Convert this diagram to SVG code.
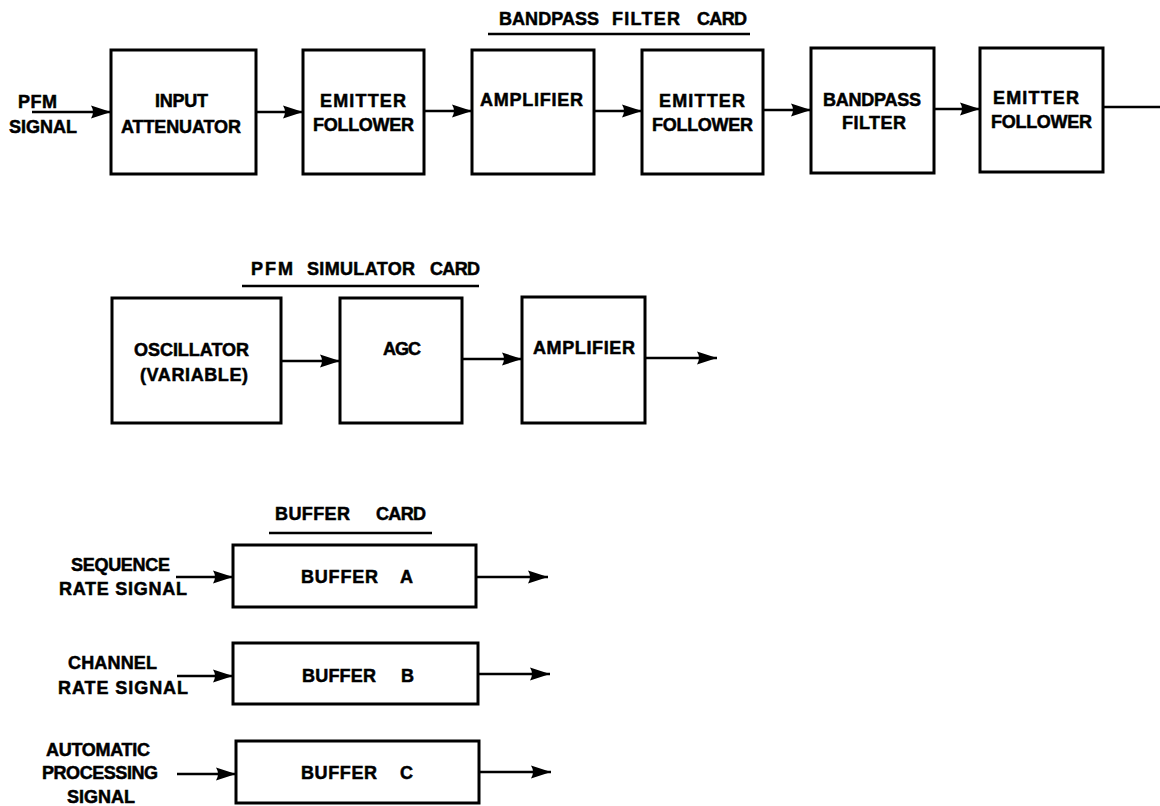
<svg xmlns="http://www.w3.org/2000/svg" width="1160" height="806" viewBox="0 0 1160 806">
<style>
.t{font-family:"Liberation Sans",Arial,sans-serif;font-weight:bold;font-size:18px;fill:#000;stroke:#000;stroke-width:0.5}
.b{fill:#fff;stroke:#000;stroke-width:3}
.c{fill:none;stroke:#000;stroke-width:2.5}
.a{marker-end:url(#ah)}
.u{stroke:#000;stroke-width:2.5}
</style>
<defs>
<marker id="ah" markerUnits="userSpaceOnUse" markerWidth="21" markerHeight="14" refX="20" refY="7" orient="auto">
<path d="M0,0.5 L20,7 L0,13.5 Q4,7 0,0.5 z" fill="#000"/>
</marker>
</defs>
<rect width="1160" height="806" fill="#fff"/>

<g id="headers">
<text class="t" x="499" y="25" textLength="100">BANDPASS</text>
<text class="t" x="612" y="25" textLength="68">FILTER</text>
<text class="t" x="697" y="25" textLength="50">CARD</text>
<line class="u" x1="488" y1="34" x2="750" y2="34"/>
<text class="t" x="251" y="275" textLength="42">PFM</text>
<text class="t" x="307" y="275" textLength="108">SIMULATOR</text>
<text class="t" x="430" y="275" textLength="50">CARD</text>
<line class="u" x1="242" y1="286" x2="479" y2="286"/>
<text class="t" x="275" y="520" textLength="75">BUFFER</text>
<text class="t" x="376" y="520" textLength="50">CARD</text>
<line class="u" x1="269" y1="533" x2="432" y2="533"/>
</g>

<g id="pfm-signal">
<text class="t" x="18" y="108" textLength="39">PFM</text>
<text class="t" x="9" y="133" textLength="68">SIGNAL</text>
</g>
<g id="input-attenuator">
<rect class="b" x="111" y="50" width="145" height="124"/>
<text class="t" x="155" y="107" textLength="53">INPUT</text>
<text class="t" x="121" y="133" textLength="120">ATTENUATOR</text>
</g>
<g id="emitter-follower-1">
<rect class="b" x="303" y="50" width="121" height="124"/>
<text class="t" x="320" y="107" textLength="86">EMITTER</text>
<text class="t" x="313" y="131" textLength="101">FOLLOWER</text>
</g>
<g id="amplifier-1">
<rect class="b" x="472" y="50" width="122" height="124"/>
<text class="t" x="480" y="106" textLength="103">AMPLIFIER</text>
</g>
<g id="emitter-follower-2">
<rect class="b" x="642" y="50" width="121" height="124"/>
<text class="t" x="659" y="107" textLength="86">EMITTER</text>
<text class="t" x="652" y="131" textLength="101">FOLLOWER</text>
</g>
<g id="bandpass-filter">
<rect class="b" x="811" y="48" width="123" height="125"/>
<text class="t" x="823" y="106" textLength="98">BANDPASS</text>
<text class="t" x="842" y="129" textLength="64">FILTER</text>
</g>
<g id="emitter-follower-3">
<rect class="b" x="980" y="48" width="123" height="124"/>
<text class="t" x="993" y="104" textLength="86">EMITTER</text>
<text class="t" x="991" y="128" textLength="101">FOLLOWER</text>
</g>

<g id="oscillator">
<rect class="b" x="112" y="298" width="169" height="125"/>
<text class="t" x="134" y="356" textLength="115">OSCILLATOR</text>
<text class="t" x="140" y="381" textLength="108">(VARIABLE)</text>
</g>
<g id="agc">
<rect class="b" x="340" y="298" width="122" height="125"/>
<text class="t" x="383" y="355" textLength="38">AGC</text>
</g>
<g id="amplifier-2">
<rect class="b" x="522" y="297" width="123" height="126"/>
<text class="t" x="533" y="354" textLength="102">AMPLIFIER</text>
</g>

<g id="sequence-rate-signal">
<text class="t" x="71" y="571" textLength="99">SEQUENCE</text>
<text class="t" x="59" y="595" textLength="128">RATE SIGNAL</text>
</g>
<g id="buffer-a">
<rect class="b" x="233" y="545" width="243" height="62"/>
<text class="t" x="301" y="583" textLength="77">BUFFER</text>
<text class="t" x="400" y="583">A</text>
</g>
<g id="channel-rate-signal">
<text class="t" x="68" y="669" textLength="89">CHANNEL</text>
<text class="t" x="58" y="694" textLength="130">RATE SIGNAL</text>
</g>
<g id="buffer-b">
<rect class="b" x="233" y="643" width="245" height="61"/>
<text class="t" x="302" y="682" textLength="74">BUFFER</text>
<text class="t" x="401" y="682">B</text>
</g>
<g id="automatic-processing-signal">
<text class="t" x="46" y="756" textLength="104">AUTOMATIC</text>
<text class="t" x="42" y="779" textLength="116">PROCESSING</text>
<text class="t" x="67" y="803" textLength="68">SIGNAL</text>
</g>
<g id="buffer-c">
<rect class="b" x="236" y="741" width="243" height="62"/>
<text class="t" x="301" y="779" textLength="76">BUFFER</text>
<text class="t" x="400" y="779">C</text>
</g>

<g id="connectors">
<line class="c a" x1="32" y1="112" x2="111" y2="112"/>
<line class="c a" x1="256" y1="112" x2="303" y2="112"/>
<line class="c a" x1="424" y1="111" x2="472" y2="111"/>
<line class="c a" x1="594" y1="111" x2="642" y2="111"/>
<line class="c a" x1="763" y1="110" x2="811" y2="110"/>
<line class="c a" x1="934" y1="109" x2="980" y2="109"/>
<line class="c" x1="1103" y1="107" x2="1160" y2="107"/>
<line class="c a" x1="281" y1="361" x2="340" y2="361"/>
<line class="c a" x1="462" y1="359" x2="522" y2="359"/>
<line class="c a" x1="645" y1="358" x2="717" y2="358"/>
<line class="c a" x1="176" y1="577" x2="233" y2="577"/>
<line class="c a" x1="476" y1="577" x2="548" y2="577"/>
<line class="c a" x1="177" y1="676" x2="233" y2="676"/>
<line class="c a" x1="478" y1="674" x2="550" y2="674"/>
<line class="c a" x1="177" y1="774" x2="236" y2="774"/>
<line class="c a" x1="479" y1="772" x2="551" y2="772"/>
</g>
</svg>
